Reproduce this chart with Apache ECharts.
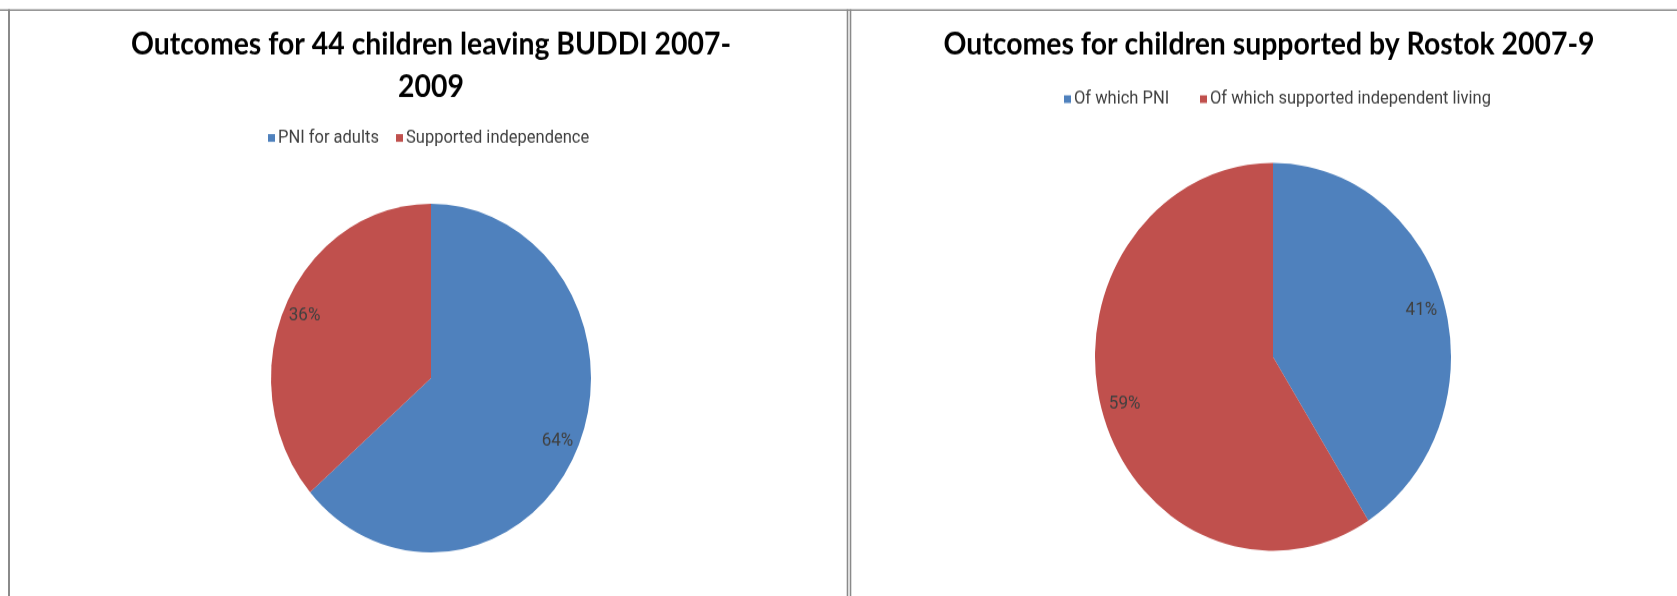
<!DOCTYPE html>
<html><head><meta charset="utf-8">
<script src="https://cdn.jsdelivr.net/npm/echarts@6/dist/echarts.min.js"></script>
<style>
html,body{margin:0;padding:0;background:#fff;overflow:hidden;}
#wrap{width:1677px;height:596px;overflow:hidden;background:#fff;}
#chart{width:1677px;height:547px;transform:scaleY(1.0896);transform-origin:0 0;}
</style></head><body>
<div id="wrap"><div id="chart"></div></div>
<script>
// ---- data ----
const leftTitle = 'Outcomes for 44 children leaving BUDDI 2007-\n2009';
const leftCategories = ['PNI for adults', 'Supported independence'];
const leftValues = [28, 16];
const rightTitle = 'Outcomes for children supported by Rostok 2007-9';
const rightCategories = ['Of which PNI', 'Of which supported independent living'];
const rightValues = [41, 59];
const sliceColors = ['#4F81BD', '#C0504D'];

// ---- build ----
function pieData(cats, vals) {
  return cats.map((c, i) => ({ name: c, value: vals[i], itemStyle: { color: sliceColors[i] } }));
}
function labelData(cats, vals) {
  return cats.map((c, i) => ({ name: c, value: vals[i], itemStyle: { color: 'rgba(0,0,0,0)' } }));
}
const titleFont = "Lato, 'Open Sans', sans-serif";
const bodyFont = "Roboto, 'Noto Sans', sans-serif";

function mainPie(center, r, cats, vals) {
  return {
    type: 'pie', center: center, radius: [0, r], startAngle: 90, clockwise: true,
    data: pieData(cats, vals), label: { show: false }, labelLine: { show: false },
    emphasis: { disabled: true }, animation: false
  };
}
function labelPie(center, r0, r, cats, vals) {
  return {
    type: 'pie', center: center, radius: [r0, r], startAngle: 90, clockwise: true,
    percentPrecision: 0, silent: true, data: labelData(cats, vals),
    label: { show: true, position: 'inside', formatter: '{d}%', color: '#404040', fontFamily: bodyFont, fontSize: 17 },
    labelLine: { show: false }, emphasis: { disabled: true }, animation: false
  };
}
function legendItem(name, left, top) {
  return {
    data: [name], left: left, top: top, padding: 0, icon: 'rect', itemWidth: 7, itemHeight: 7,
    itemGap: 0, selectedMode: false,
    textStyle: { color: '#404040', fontFamily: bodyFont, fontSize: 16.5, lineHeight: 20, padding: [0, 0, 0, -2] }
  };
}

const option = {
  backgroundColor: '#fff',
  animation: false,
  title: [
    { text: leftTitle, left: 431, top: 21, textAlign: 'center', padding: 0,
      textStyle: { fontFamily: titleFont, fontWeight: 'bold', fontSize: 28.4, color: '#000', lineHeight: 39 } },
    { text: rightTitle, left: 1269, top: 21, textAlign: 'center', padding: 0,
      textStyle: { fontFamily: titleFont, fontWeight: 'bold', fontSize: 28.4, color: '#000', lineHeight: 39 } }
  ],
  legend: [
    legendItem(leftCategories[0], 268, 116.6),
    legendItem(leftCategories[1], 396, 116.6),
    legendItem(rightCategories[0], 1064, 81),
    legendItem(rightCategories[1], 1200, 81)
  ],
  graphic: [
    { type: 'line', shape: { x1: 0, y1: 9.2, x2: 1677, y2: 9.2 }, style: { stroke: '#8a8a8a', lineWidth: 1.4 }, silent: true },
    { type: 'line', shape: { x1: 9, y1: 8.5, x2: 9, y2: 547 }, style: { stroke: '#8a8a8a', lineWidth: 2 }, silent: true },
    { type: 'line', shape: { x1: 847.5, y1: 8.5, x2: 847.5, y2: 547 }, style: { stroke: '#8a8a8a', lineWidth: 1.6 }, silent: true },
    { type: 'line', shape: { x1: 850.5, y1: 8.5, x2: 850.5, y2: 547 }, style: { stroke: '#8a8a8a', lineWidth: 1.6 }, silent: true }
  ],
  series: [
    mainPie([431, 347], 160, leftCategories, leftValues),
    mainPie([1273, 327.5], 178, rightCategories, rightValues),
    labelPie([431, 347], 112, 160, leftCategories, leftValues),
    labelPie([1273, 327.5], 125, 178, rightCategories, rightValues)
  ]
};
const chart = echarts.init(document.getElementById('chart'), null, { renderer: 'canvas' });
chart.setOption(option);
</script>
</body></html>
